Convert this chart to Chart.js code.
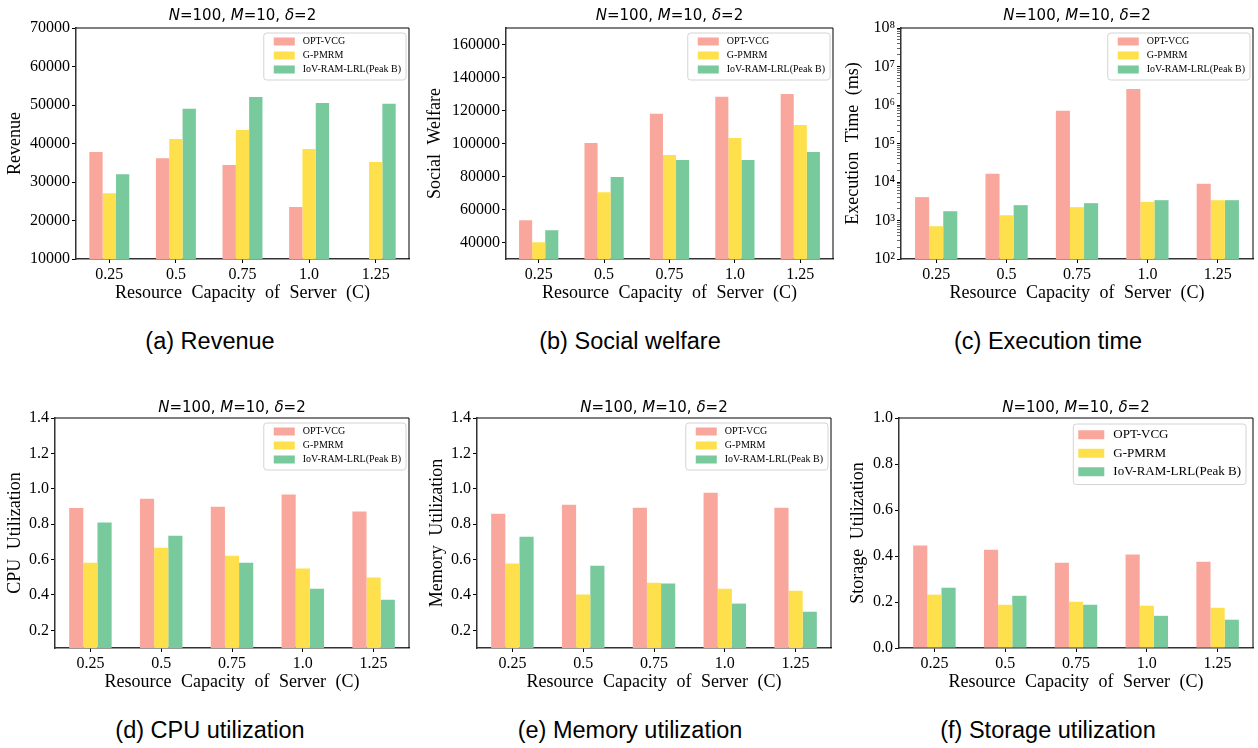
<!DOCTYPE html>
<html>
<head>
<meta charset="utf-8">
<script src="https://cdn.jsdelivr.net/npm/chart.js@4.4.0/dist/chart.umd.min.js"></script>
<style>
  body { margin: 0; background: #fff; width: 1258px; height: 748px; position: relative; overflow: hidden; }
  .panel { position: absolute; width: 420px; height: 310px; }
  .ttl { position: absolute; font-family: 'DejaVu Sans'; font-size: 15px; white-space: nowrap; transform: translate(-50%, -50%); }
  .cap { position: absolute; font-family: 'Liberation Sans'; font-size: 23.5px; white-space: nowrap; transform: translate(-50%, -50%); }
</style>
</head>
<body>
<script>
// six bar panels, N=100, M=10, delta=2

const CAPACITY = ['0.25', '0.5', '0.75', '1.0', '1.25'];
const METHODS = ['OPT-VCG', 'G-PMRM', 'IoV-RAM-LRL(Peak B)'];
const METHOD_COLORS = ['#f9a79c', '#fee04c', '#78c99c'];

const REVENUE_OPT = [37800, 36200, 34400, 23500, null];
const REVENUE_GP = [27100, 41200, 43500, 38600, 35200];
const REVENUE_IOV = [32000, 49000, 52100, 50500, 50300];

const WELFARE_OPT = [53500, 100300, 118000, 128300, 130000];
const WELFARE_GP = [40200, 70500, 93000, 103300, 111200];
const WELFARE_IOV = [47400, 79700, 90000, 90000, 94900];

const TIME_OPT = [4050, 16400, 714000, 2620000, 8980];
const TIME_GP = [710, 1370, 2220, 3050, 3370];
const TIME_IOV = [1740, 2500, 2820, 3370, 3370];

const CPU_OPT = [0.891, 0.944, 0.899, 0.967, 0.871];
const CPU_GP = [0.582, 0.667, 0.622, 0.549, 0.498];
const CPU_IOV = [0.809, 0.735, 0.582, 0.435, 0.373];

const MEM_OPT = [0.859, 0.910, 0.893, 0.978, 0.893];
const MEM_GP = [0.577, 0.402, 0.469, 0.435, 0.424];
const MEM_IOV = [0.729, 0.565, 0.464, 0.351, 0.305];

const STO_OPT = [0.446, 0.427, 0.371, 0.407, 0.375];
const STO_GP = [0.232, 0.188, 0.201, 0.184, 0.175];
const STO_IOV = [0.262, 0.227, 0.188, 0.140, 0.123];

const TICKS_REVENUE = [10000, 20000, 30000, 40000, 50000, 60000, 70000];
const TICKS_WELFARE = [40000, 60000, 80000, 100000, 120000, 140000, 160000];
const TICKS_TIME = [1e2, 1e3, 1e4, 1e5, 1e6, 1e7, 1e8];
const TICKS_UTIL = [0.2, 0.4, 0.6, 0.8, 1.0, 1.2, 1.4];
const TICKS_STORAGE = [0, 0.2, 0.4, 0.6, 0.8, 1.0];

const SERIF = '"Liberation Serif", "Times New Roman", serif';
const SUP = { 2: '²', 3: '³', 4: '⁴', 5: '⁵', 6: '⁶', 7: '⁷', 8: '⁸' };

const SMALL_LEGEND = { fontSize: 10, rowH: 14, padLeft: 10, patchW: 21, patchH: 8, textOffset: 39, marginRight: 3, marginTop: 5 };
const BIG_LEGEND = { fontSize: 13, rowH: 18.5, padLeft: 5, patchW: 26, patchH: 9, textOffset: 40, marginRight: 7, marginTop: 6 };

const PANELS = [
  { x: 0, y: 0, plotL: 76, plotR: 409, plotB: 259, min: 10000, max: 70000, ticks: TICKS_REVENUE,
    series: [REVENUE_OPT, REVENUE_GP, REVENUE_IOV], yTitle: 'Revenue', yPad: 4, caption: '(a) Revenue', fmt: 'int', legend: SMALL_LEGEND },
  { x: 420, y: 0, plotL: 86, plotR: 413, plotB: 259, min: 30000, max: 170000, ticks: TICKS_WELFARE,
    series: [WELFARE_OPT, WELFARE_GP, WELFARE_IOV], yTitle: 'Social Welfare', yPad: 4, caption: '(b) Social welfare', fmt: 'int', legend: SMALL_LEGEND },
  { x: 838, y: 0, plotL: 63, plotR: 415, plotB: 259, min: 100, max: 1e8, ticks: TICKS_TIME, log: true,
    series: [TIME_OPT, TIME_GP, TIME_IOV], yTitle: 'Execution Time (ms)', yPad: 4, caption: '(c) Execution time', fmt: 'pow', legend: SMALL_LEGEND },
  { x: 0, y: 390, plotL: 55, plotR: 409, plotB: 258, min: 0.1, max: 1.4, ticks: TICKS_UTIL,
    series: [CPU_OPT, CPU_GP, CPU_IOV], yTitle: 'CPU Utilization', yPad: 4, caption: '(d) CPU utilization', fmt: 'dec', legend: SMALL_LEGEND },
  { x: 420, y: 390, plotL: 57, plotR: 411, plotB: 258, min: 0.1, max: 1.4, ticks: TICKS_UTIL,
    series: [MEM_OPT, MEM_GP, MEM_IOV], yTitle: 'Memory Utilization', yPad: 6, caption: '(e) Memory utilization', fmt: 'dec', legend: SMALL_LEGEND },
  { x: 838, y: 390, plotL: 61, plotR: 415, plotB: 258, min: 0, max: 1.0, ticks: TICKS_STORAGE,
    series: [STO_OPT, STO_GP, STO_IOV], yTitle: 'Storage Utilization', yPad: 9, caption: '(f) Storage utilization', fmt: 'dec', legend: BIG_LEGEND }
];

// minor ticks for the log axis (2..9 x 10^n)
function logTicks(major) {
  const out = [];
  major.forEach((v, i) => {
    out.push(v);
    if (i < major.length - 1) for (let m = 2; m < 10; m++) out.push(v * m);
  });
  return out;
}

function isPow10(v) {
  const e = Math.log10(v);
  return Math.abs(e - Math.round(e)) < 1e-9;
}

function formatTick(fmt, v) {
  if (fmt === 'int') return String(v);
  if (fmt === 'dec') return v.toFixed(1);
  return isPow10(v) ? '10' + SUP[Math.round(Math.log10(v))] : '';
}

// top and right spines
const framePlugin = {
  id: 'frame',
  afterDraw(chart) {
    const { ctx, chartArea: a } = chart;
    ctx.save();
    ctx.strokeStyle = '#000';
    ctx.lineWidth = 1;
    ctx.beginPath();
    ctx.moveTo(a.left, a.top);
    ctx.lineTo(a.right, a.top);
    ctx.lineTo(a.right, a.bottom);
    ctx.stroke();
    ctx.restore();
  }
};

// wider word gaps in axis titles, like the source figure
const spacingPlugin = {
  id: 'spacing',
  beforeDraw(chart) { chart.ctx.wordSpacing = '5px'; }
};

// framed legend in the upper right of the plot
const boxLegend = {
  id: 'boxLegend',
  afterDatasetsDraw(chart, args, opts) {
    const { ctx, chartArea } = chart;
    const sets = chart.data.datasets;
    ctx.save();
    ctx.wordSpacing = '0px';
    ctx.font = opts.fontSize + 'px ' + SERIF;
    const textW = Math.max(...sets.map(d => ctx.measureText(d.label).width));
    const w = opts.textOffset + textW + 5;
    const h = sets.length * opts.rowH + 5;
    const x = chartArea.right - opts.marginRight - w;
    const y = chartArea.top + opts.marginTop;
    ctx.beginPath();
    ctx.roundRect(x, y, w, h, 3);
    ctx.fillStyle = 'rgba(255,255,255,0.8)';
    ctx.fill();
    ctx.strokeStyle = '#d4d4d4';
    ctx.lineWidth = 1;
    ctx.stroke();
    ctx.textBaseline = 'middle';
    sets.forEach((d, i) => {
      const cy = y + 1.5 + opts.rowH * (i + 0.5);
      ctx.fillStyle = d.backgroundColor;
      ctx.fillRect(x + opts.padLeft, cy - opts.patchH / 2, opts.patchW, opts.patchH);
      ctx.fillStyle = '#000';
      ctx.fillText(d.label, x + opts.textOffset, cy);
    });
    ctx.restore();
  }
};

function createPanel(p) {
  const box = document.createElement('div');
  box.className = 'panel';
  box.style.left = p.x + 'px';
  box.style.top = p.y + 'px';
  const canvas = document.createElement('canvas');
  canvas.width = 420;
  canvas.height = 310;
  box.appendChild(canvas);
  document.body.appendChild(box);

  const title = document.createElement('div');
  title.className = 'ttl';
  title.innerHTML = '<i>N</i>=100, <i>M</i>=10, <i>δ</i>=2';
  title.style.left = (p.x + (p.plotL + p.plotR) / 2) + 'px';
  title.style.top = (p.y + (p.y ? 17 : 15)) + 'px';
  document.body.appendChild(title);

  const cap = document.createElement('div');
  cap.className = 'cap';
  cap.textContent = p.caption;
  cap.style.left = (p.x + 210) + 'px';
  cap.style.top = (p.y ? 730 : 341) + 'px';
  document.body.appendChild(cap);

  const yTicks = p.log ? logTicks(p.ticks) : p.ticks;

  new Chart(canvas, {
    type: 'bar',
    data: {
      labels: CAPACITY,
      datasets: p.series.map((d, i) => ({
        label: METHODS[i],
        data: d,
        backgroundColor: METHOD_COLORS[i],
        borderWidth: 0,
        barPercentage: 1,
        categoryPercentage: 0.6
      }))
    },
    options: {
      responsive: false,
      animation: false,
      layout: { padding: { left: 0, top: 28, right: 420 - p.plotR, bottom: 310 - p.plotB - 45 } },
      plugins: {
        legend: { display: false },
        tooltip: { enabled: false },
        boxLegend: p.legend
      },
      scales: {
        x: {
          grid: { offset: false, drawOnChartArea: false, tickLength: 4, tickColor: '#000' },
          border: { color: '#333', width: 1.5 },
          ticks: { color: '#000', font: { family: SERIF, size: 16 }, padding: 2, maxRotation: 0 },
          title: { display: true, text: 'Resource Capacity of Server (C)', color: '#000', font: { family: SERIF, size: 18 }, padding: 0 },
          afterFit: s => { s.height = 45; }
        },
        y: {
          type: p.log ? 'logarithmic' : 'linear',
          min: p.min,
          max: p.max,
          bounds: 'data',
          afterBuildTicks: s => { s.ticks = yTicks.map(v => ({ value: v })); },
          grid: {
            drawOnChartArea: false, tickLength: 4, tickColor: '#000',
            tickWidth: c => (p.log && !isPow10(c.tick.value)) ? 0.6 : 1
          },
          border: { color: '#333', width: 1.5 },
          ticks: {
            autoSkip: false, color: '#000', padding: 2,
            font: { family: SERIF, size: 16 },
            callback: v => formatTick(p.fmt, v)
          },
          title: { display: true, text: p.yTitle, color: '#000', font: { family: SERIF, size: 18 }, padding: { top: p.yPad, bottom: 0 } },
          afterFit: s => { s.width = p.plotL; }
        }
      }
    },
    plugins: [spacingPlugin, framePlugin, boxLegend]
  });
}

PANELS.forEach(createPanel);
</script>
</body>
</html>
